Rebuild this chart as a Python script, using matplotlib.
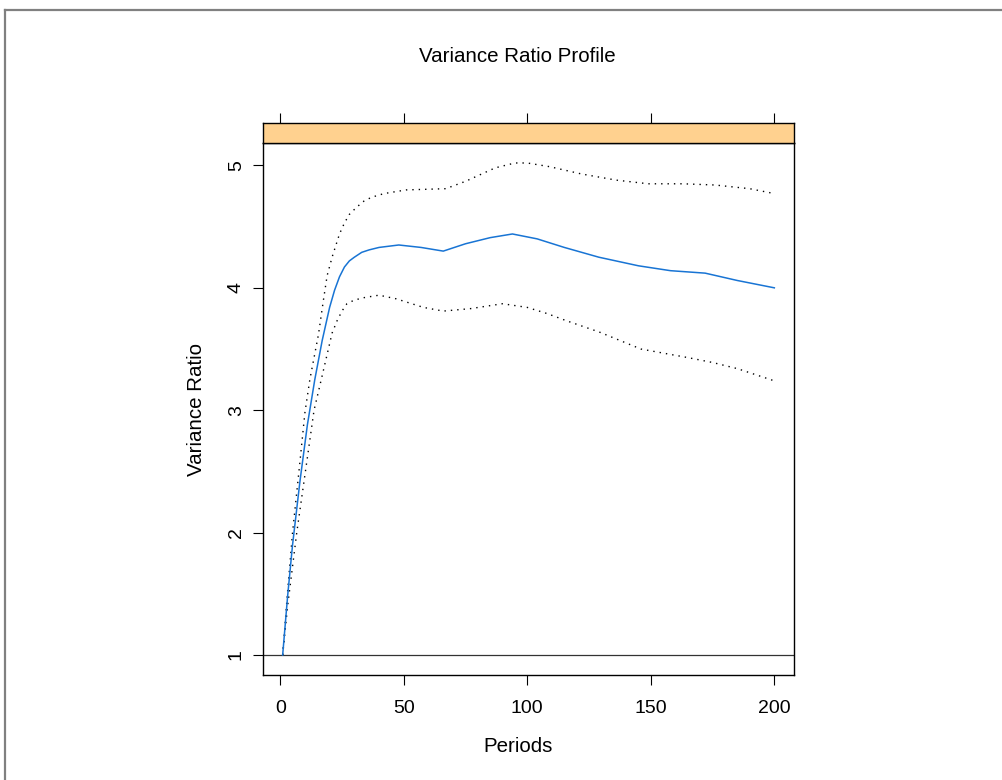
import matplotlib
matplotlib.use("Agg")
import matplotlib.pyplot as plt
from matplotlib.lines import Line2D

plt.rcParams["font.family"] = ["Liberation Sans", "DejaVu Sans"]

# Variance ratio profile: central estimate and dotted confidence band
periods_mid = [1, 3, 5, 8, 11, 14, 17, 20, 22, 24, 26, 28, 30, 33, 36, 40, 48,
               57, 66, 75, 85, 94, 104, 115, 129, 145, 158, 172, 185, 200]
ratio_mid = [1.00, 1.48, 1.90, 2.42, 2.88, 3.25, 3.57, 3.84, 3.98, 4.09, 4.17,
             4.22, 4.25, 4.29, 4.31, 4.33, 4.35, 4.33, 4.30, 4.36, 4.41, 4.44,
             4.40, 4.33, 4.25, 4.18, 4.14, 4.12, 4.06, 4.00]

periods_upper = [1, 3, 5, 8, 10, 12, 15.5, 17.5, 19, 21, 24, 26, 28, 31, 34, 37,
                 42, 51, 67, 75, 87, 95, 100, 109, 122, 136, 149, 163, 176, 190,
                 200]
ratio_upper = [1.00, 1.52, 2.00, 2.58, 2.98, 3.25, 3.62, 3.90, 4.10, 4.25, 4.44,
               4.53, 4.60, 4.66, 4.71, 4.74, 4.77, 4.80, 4.81, 4.87, 4.98, 5.02,
               5.02, 4.99, 4.93, 4.88, 4.85, 4.85, 4.84, 4.81, 4.77]

periods_lower = [1, 3, 6.7, 10, 13.7, 16.5, 19.5, 21, 23, 25, 27, 30, 34, 40, 47,
                 58, 66, 77, 90, 100, 108, 116, 129, 146, 165, 175, 185, 200]
ratio_lower = [1.00, 1.40, 2.00, 2.47, 3.00, 3.24, 3.50, 3.63, 3.73, 3.81, 3.87,
               3.90, 3.92, 3.94, 3.91, 3.84, 3.81, 3.83, 3.87, 3.84, 3.79, 3.73,
               3.64, 3.50, 3.43, 3.39, 3.34, 3.24]

x_ticks = [0, 50, 100, 150, 200]
y_ticks = [1, 2, 3, 4, 5]

W, H = 1002, 780
fig = plt.figure(figsize=(W / 100, H / 100), dpi=100)
fig.patch.set_facecolor("white")


def fx(px):
    return px / W


def fy(py):
    return 1 - py / H


# panel geometry (pixels)
pl, pr, pt, pb = 263, 794, 143.3, 674.7
st_top = 122.7

ax = fig.add_axes([fx(pl), fy(pb), fx(pr) - fx(pl), fy(pt) - fy(pb)])
strip = fig.add_axes([fx(pl), fy(pt), fx(pr) - fx(pl), fy(st_top) - fy(pt)], sharex=ax)

xmin, xmax = 1, 200
xr = xmax - xmin
ymin, ymax = 1.0, 5.02
yr = ymax - ymin
ax.set_xlim(xmin - 0.04 * xr, xmax + 0.04 * xr)
ax.set_ylim(ymin - 0.04 * yr, ymax + 0.04 * yr)

ax.axhline(1, color="#333333", lw=0.9, zorder=1)
dot = (0, (1.0, 3.6))
ax.plot(periods_upper, ratio_upper, color="black", lw=1.0, linestyle=dot, zorder=2)
ax.plot(periods_lower, ratio_lower, color="black", lw=1.0, linestyle=dot, zorder=2)
ax.plot(periods_mid, ratio_mid, color="#1874D4", lw=1.1, zorder=3)

for sp in ax.spines.values():
    sp.set_linewidth(1.0)
    sp.set_color("black")

ax.set_xticks(x_ticks)
ax.set_yticks(y_ticks)
ax.tick_params(axis="x", direction="out", length=7.5, width=0.8, pad=11,
               labelsize=14, top=False, bottom=True)
ax.tick_params(axis="y", direction="out", length=7.5, width=0.8, pad=5.5,
               labelsize=14, right=False, left=True)
for lab in ax.get_yticklabels():
    lab.set_rotation(90)
    lab.set_va("center")

# strip above the panel, carrying the top ticks
strip.set_facecolor("#FFD18F")
strip.set_yticks([])
strip.tick_params(axis="x", direction="out", length=7.5, width=0.8,
                  top=True, bottom=False, labeltop=False, labelbottom=False)
for sp in strip.spines.values():
    sp.set_linewidth(1.0)
    sp.set_color("black")

fig.text(fx(517), fy(57), "Variance Ratio Profile", ha="center", va="center", fontsize=14.8)
fig.text(fx(518), fy(747), "Periods", ha="center", va="center", fontsize=14.8)
fig.text(fx(197), fy(409), "Variance Ratio", ha="center", va="center",
         rotation=90, fontsize=14.8)

# thin grey frame along the top and left edges
fig.add_artist(Line2D([fx(4.5), fx(4.5)], [0, fy(9.5)], color="#808080", lw=1.6))
fig.add_artist(Line2D([fx(4.5), 1], [fy(9.5), fy(9.5)], color="#808080", lw=1.6))

fig.savefig("out.png", dpi=100)
